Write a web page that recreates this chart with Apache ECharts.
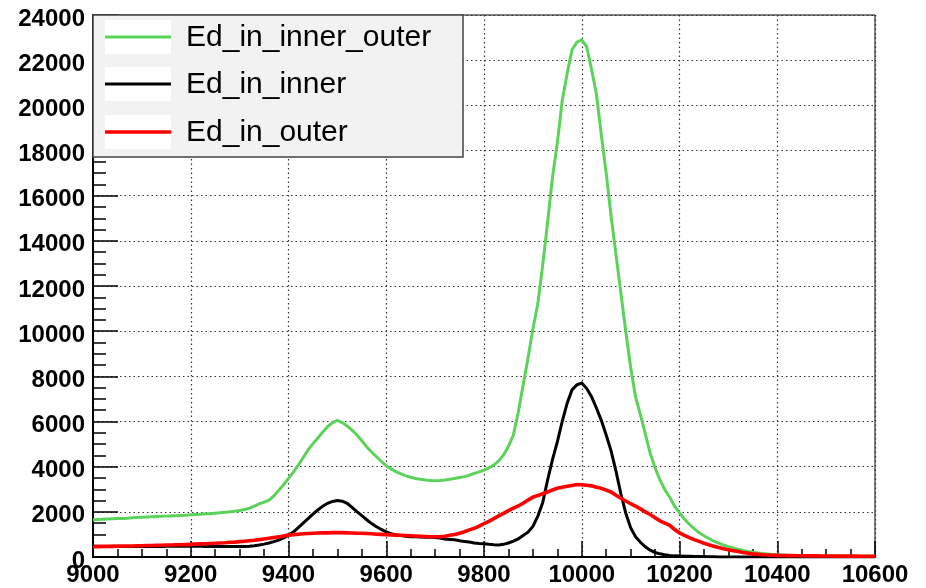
<!DOCTYPE html>
<html>
<head>
<meta charset="utf-8">
<script src="https://cdn.jsdelivr.net/npm/echarts@6/dist/echarts.min.js"></script>
<style>
html,body{margin:0;padding:0;background:#fff;}
#chart{width:926px;height:588px;}
</style>
</head>
<body>
<div id="chart"></div>
<script>
// Histogram binning (x axis)
const binStart = 9000;
const binWidth = 10;
const xTickLabels = ['9000','9200','9400','9600','9800','10000','10200','10400','10600'];
const yTickLabels = ['0','2000','4000','6000','8000','10000','12000','14000','16000','18000','20000','22000','24000'];
const seriesNames = ['Ed_in_inner_outer', 'Ed_in_inner', 'Ed_in_outer'];

const innerOuter = [
  1650,
  1660,1670,1680,1690,1700,1710,1720,1740,1750,1760,
  1770,1780,1790,1800,1810,1820,1830,1840,1850,1870,
  1880,1890,1910,1920,1940,1960,1980,2000,2030,2060,
  2100,2160,2250,2350,2430,2520,2700,2950,3200,3480,
  3760,4070,4400,4740,5020,5270,5530,5770,5950,6050,
  5950,5800,5620,5400,5150,4880,4650,4440,4230,4040,
  3900,3780,3680,3590,3530,3480,3440,3410,3390,3380,
  3390,3410,3440,3480,3520,3560,3620,3700,3770,3850,
  3950,4070,4250,4520,4900,5400,6400,7600,8800,10100,
  11200,12900,14800,16800,18330,20200,21400,22450,22800,22900,
  22600,21600,20500,18700,17000,15100,13400,11700,10000,8400,
  7100,6300,5450,4600,3950,3410,2980,2650,2250,1950,
  1680,1450,1260,1080,940,820,700,610,530,460,
  400,340,290,250,210,180,150,130,110,95,
  85,75,70,65,60,55,50,50,45,45,
  40,40,40,35,35,35,30,30,30,30
];
const inner = [
  480,
  480,470,470,480,470,470,460,470,470,470,
  470,470,470,470,480,480,480,480,480,480,
  480,480,470,470,470,470,470,460,460,460,
  470,480,500,530,570,620,680,750,840,970,
  1100,1300,1500,1700,1900,2080,2250,2380,2460,2500,
  2470,2380,2200,2010,1830,1650,1480,1340,1220,1110,
  1030,980,950,920,900,900,890,880,870,860,
  840,800,780,760,720,690,660,620,600,590,
  560,540,530,560,620,700,800,950,1100,1350,
  1800,2400,3400,4300,5100,6000,6800,7400,7620,7700,
  7470,7100,6600,6050,5400,4700,3800,2800,1950,1300,
  900,650,450,300,200,140,100,70,50,40,
  30,30,25,20,20,15,10,5,0,0,
  0,0,0,0,0,0,0,0,0,0,
  0,0,0,0,0,0,0,0,0,0,
  0,0,0,0,0,0,0,0,0,0
];
const outer = [
  460,
  460,470,470,470,480,480,490,490,500,500,
  510,510,520,520,530,530,540,540,550,560,
  570,580,590,600,610,620,630,650,660,680,
  700,720,740,770,800,830,860,890,930,970,
  990,1010,1030,1040,1050,1060,1070,1070,1080,1080,
  1080,1070,1060,1050,1050,1040,1030,1010,1000,990,
  980,970,960,950,940,930,920,910,900,900,
  900,920,960,1000,1050,1120,1200,1270,1370,1480,
  1580,1700,1820,1935,2050,2160,2260,2380,2520,2650,
  2720,2800,2880,2970,3040,3090,3130,3170,3210,3200,
  3180,3150,3090,3040,2960,2880,2730,2600,2480,2360,
  2250,2130,2000,1880,1740,1600,1500,1400,1220,1070,
  960,860,770,690,610,540,480,420,370,320,
  280,240,200,170,140,120,100,90,80,70,
  65,60,60,55,55,50,50,50,45,45,
  45,40,40,40,40,40,35,35,35,35
];

const colors = ['#5bd35a', '#000000', '#ff0000'];
const widths = [3, 3, 3.6];

function toPairs(arr){ return arr.map((v,i)=>[binStart + i*binWidth, v]); }

const chart = echarts.init(document.getElementById('chart'), null, {renderer:'canvas'});
const labelFont = {fontFamily:'Liberation Sans, Arial, sans-serif', fontWeight:'bold', fontSize:24, color:'#000'};

const series = [innerOuter, inner, outer].map((arr, k)=>({
  name: seriesNames[k],
  type: 'line',
  showSymbol: false,
  symbol: 'none',
  data: toPairs(arr),
  lineStyle: {color: colors[k], width: widths[k], join:'miter'},
  itemStyle: {color: colors[k]},
  z: 3 + k,
  animation: false
}));

// legend drawn with graphic elements (real text)
const legendGraphics = [{
  type:'rect', shape:{x:93, y:15, width:370, height:142},
  style:{fill:'#f2f2f2', stroke:'#444', lineWidth:1.5}, z:100
}];
const rowY = [37, 84, 132];
seriesNames.forEach((nm, k)=>{
  legendGraphics.push({type:'rect', shape:{x:105, y:rowY[k]-17, width:66, height:34}, style:{fill:'#ffffff'}, z:101});
  legendGraphics.push({type:'line', shape:{x1:105, y1:rowY[k], x2:171, y2:rowY[k]}, style:{stroke:colors[k], lineWidth:widths[k]}, z:102});
  legendGraphics.push({type:'text', x:186, y:rowY[k]+1, style:{text:nm, fontFamily:'Liberation Sans, Arial, sans-serif', fontSize:30, fill:'#000', verticalAlign:'middle', align:'left'}, z:102});
});

chart.setOption({
  animation: false,
  backgroundColor: '#ffffff',
  grid: {left:93, right:51, top:15, bottom:31, show:true, borderColor:'#000', borderWidth:1, backgroundColor:'transparent'},
  xAxis: {
    type:'value', min:9000, max:10600, interval:200,
    axisLine:{show:true, lineStyle:{color:'#000', width:2}},
    axisTick:{show:true, inside:true, length:16, lineStyle:{color:'#000', width:1.5}},
    minorTick:{show:true, splitNumber:4, length:8, lineStyle:{color:'#000', width:1.5}},
    splitLine:{show:true, lineStyle:{color:'#333', width:1.2, type:[1.5,3]}},
    axisLabel:Object.assign({margin:6, formatter:(v)=> xTickLabels.includes(String(v)) ? String(v) : ''}, labelFont)
  },
  yAxis: {
    type:'value', min:0, max:24000, interval:2000,
    axisLine:{show:true, lineStyle:{color:'#000', width:2}},
    axisTick:{show:true, inside:true, length:25, lineStyle:{color:'#000', width:1.5}},
    minorTick:{show:true, splitNumber:4, length:13, lineStyle:{color:'#000', width:1.5}},
    splitLine:{show:true, lineStyle:{color:'#333', width:1.2, type:[1.5,3]}},
    axisLabel:Object.assign({margin:8, verticalAlign:'top', lineHeight:8, formatter:(v)=> yTickLabels.includes(String(v)) ? String(v) : ''}, labelFont)
  },
  series: series,
  graphic: legendGraphics
});
</script>
</body>
</html>
